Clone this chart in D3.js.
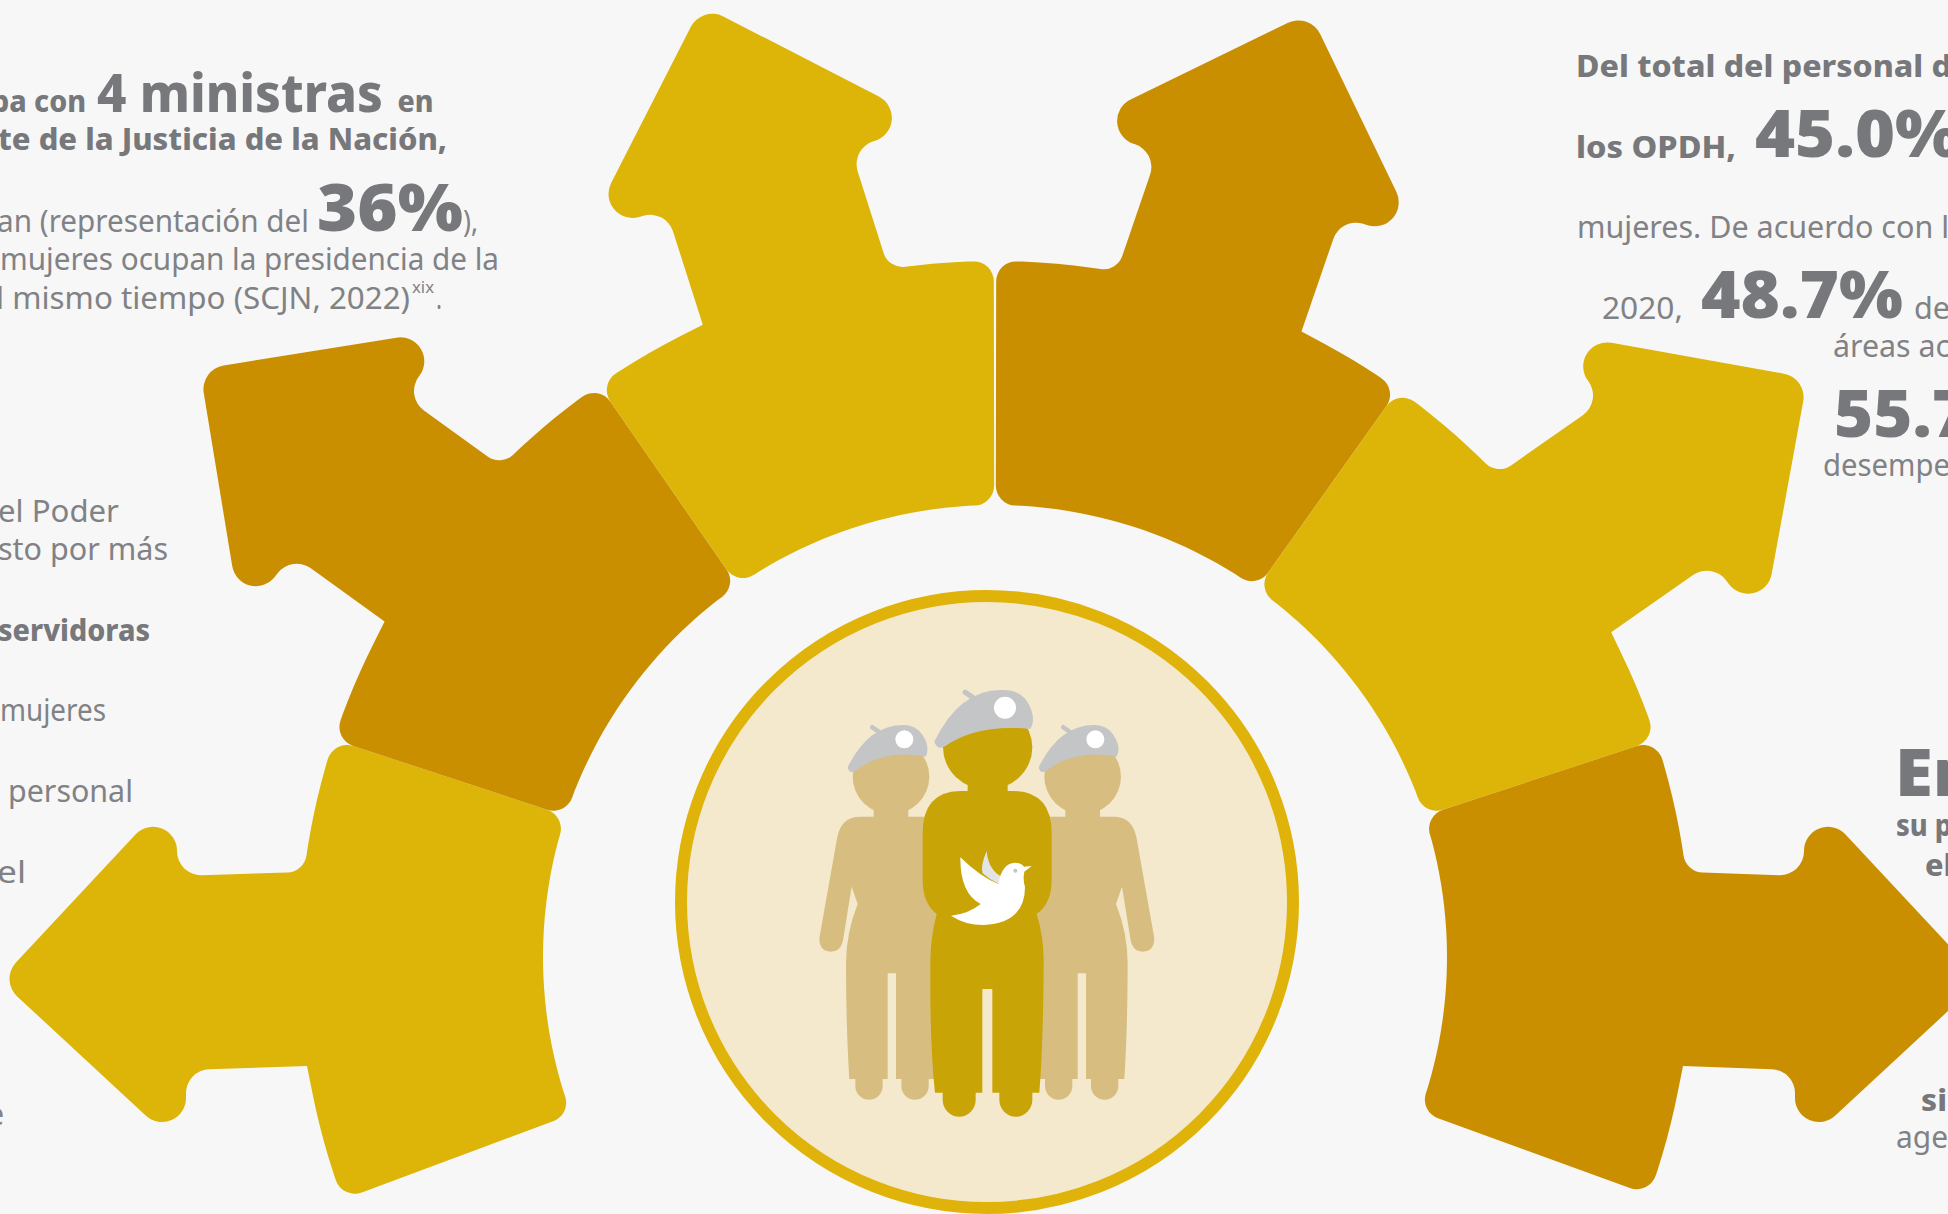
<!DOCTYPE html>
<html>
<head>
<meta charset="utf-8">
<script src="https://cdn.jsdelivr.net/npm/d3@7"></script>
<style>
  html, body { margin: 0; padding: 0; background: #f7f7f7; overflow: hidden; }
  text { font-family: "Noto Sans", "Open Sans", sans-serif; }
</style>
</head>
<body>
<svg id="chart" width="1948" height="1214"></svg>
<script>
// text (cut where the page cuts it)
const labels = [
  'pa con', '4 ministras', 'en', 'te de la Justicia de la Nación,',
  'an (representación del', '36%', '),', 'mujeres ocupan la presidencia de la',
  'l mismo tiempo (SCJN, 2022)', 'xix', '.',
  'el Poder', 'sto por más', 'servidoras', 'mujeres', 'personal', 'el', 'e',
  'Del total del personal d', 'los OPDH,', '45.0%', 'mujeres. De acuerdo con l',
  '2020,', '48.7%', 'de', 'áreas ac', '55.7', 'desempe',
  'En', 'su p', 'el', 'si', 'age'
];
// one row per label: x, baseline, width, size, weight
const labelLayout = [
  [-9, 112, 95, 30, 800], [97, 112, 286, 53, 800], [397.5, 112, 36, 30, 800], [-2, 150, 449, 30, 800],
  [-3, 232, 312, 30, 400], [317, 231, 146, 66, 900], [463, 232, 15, 30, 400], [0, 270, 499, 30, 400],
  [-4, 309, 414, 30, 400], [412, 293, 22, 17, 400], [436, 309, 6, 30, 400],
  [-2, 522, 121, 30, 400], [-2, 560, 170, 30, 400], [-2, 641, 152, 30, 800], [0, 721, 106, 30, 400], [8, 801.5, 125, 30, 400], [-3, 883, 29, 30, 400], [-12, 1125, 16, 30, 400],
  [1576, 77, 376, 30, 800], [1576, 158, 160, 30, 800], [1755, 157, 205, 66, 900], [1577, 238, 372, 30, 400],
  [1602, 319, 81, 30, 400], [1701, 318, 202, 66, 900], [1914, 319, 36, 30, 400], [1833, 357, 117, 30, 400], [1834, 437, 137, 66, 900], [1823, 476, 127, 30, 400],
  [1895, 795.5, 84, 66, 900], [1896, 836, 56, 30, 800], [1925, 876, 28, 30, 800], [1921, 1111, 26, 30, 800], [1896, 1148, 52, 30, 400]
];

// the six arrows, left side then right side
const arrowSide = [-1, -1, -1, 1, 1, 1];
const arrowTailFrom = [71.8, 34.7, 0.1, 0.1, 35.4, 71.8];
const arrowTailTo = [110.4, 71.8, 34.7, 35.4, 71.8, 110];
const arrowRotation = [0, 37.8, 74.2, 72.9, 36.8, 0];
const arrowHeadShift = [0, 7, 0, 0, -2, 9];
const arrowColor = ['#ddb408', '#c98f00', '#ddb408', '#c98f00', '#ddb408', '#c98f00'];

const svg = d3.select('#chart');
svg.append('rect').attr('width', 1948).attr('height', 1214).attr('fill', '#f7f7f7');

// arrows are built around the point the tails curve about
const hub = [995, 957];
const rIn = 452;
const rOut = 696;
const rad = Math.PI / 180;
const neckTop = [-691, -85];
const neckBottom = [-688, 109];
const head = [
  [-818, -81, 24], [-818, -167, 24], [-995.5, 23, 24], [-809, 196, 24], [-809, 113, 24]
];

const polar = (r, deg) => d3.pointRadial(deg * rad, r);
const upAngle = ([x, y]) => Math.atan2(x, -y) / rad;

// points along a tail arc, stopping short of the rounded corners at its ends
const arcPoints = (r, a0, a1, margin) => {
  const m = margin / r / rad * Math.sign(a1 - a0);
  const from = a0 + m;
  const to = a1 - m;
  const n = Math.max(1, Math.ceil(Math.abs(to - from) / 1.5));
  return d3.range(n + 1).map(i => {
    const p = polar(r, from + (to - from) * i / n);
    return [p[0], p[1], 0];
  });
};

const arrowPath = (i) => {
  const t = arrowRotation[i] * rad;
  const turn = ([x, y]) => [x * Math.cos(t) - y * Math.sin(t), x * Math.sin(t) + y * Math.cos(t)];
  const n1 = turn(neckTop);
  const n2 = turn(neckBottom);
  const pts = [
    [...polar(rIn, -arrowTailFrom[i]), 20],
    [...polar(rOut, -arrowTailFrom[i]), 20],
    ...arcPoints(rOut, -arrowTailFrom[i], upAngle(n1), 26),
    [...n1, 20],
    ...head.map(([x, y, r]) => [...turn([x + arrowHeadShift[i], y]), r]),
    [...n2, 0],
    ...arcPoints(rOut, upAngle(n2), -arrowTailTo[i], 26),
    [...polar(rOut, -arrowTailTo[i]), 20],
    [...polar(rIn, -arrowTailTo[i]), 20],
    ...arcPoints(rIn, -arrowTailTo[i], -arrowTailFrom[i], 26)
  ].map(([x, y, r]) => [arrowSide[i] < 0 ? hub[0] + x : hub[0] - x, hub[1] + y, r]);

  const path = d3.path();
  const last = pts[pts.length - 1];
  path.moveTo(last[0], last[1]);
  pts.forEach(([x, y, r], k) => {
    if (r > 0) {
      const next = pts[(k + 1) % pts.length];
      path.arcTo(x, y, next[0], next[1], r);
    } else {
      path.lineTo(x, y);
    }
  });
  path.closePath();
  return path.toString();
};

svg.selectAll('path.arrow')
  .data(d3.range(arrowSide.length))
  .enter()
  .append('path')
  .attr('class', 'arrow')
  .attr('d', arrowPath)
  .attr('fill', i => arrowColor[i]);

svg.append('circle')
  .attr('cx', 987).attr('cy', 902).attr('r', 306)
  .attr('fill', '#f4e9cd').attr('stroke', '#e0b30b').attr('stroke-width', 12);

// people, drawn in a 3x frame and scaled down
const people = svg.append('g').attr('transform', 'translate(780,660) scale(0.33333)');
const sideBody = 'M281,470 L240,470 Q185,470 172,530 L118,835 Q118,875 153,875 Q185,875 190,835 L215,680 L233,732 Q198,820 198,910 Q198,1100 208,1257 L226,1257 L226,1278 A41,41 0 0 0 308,1278 L308,1257 L323,1257 L323,940 L348,940 L348,1257 L364,1257 L364,1278 A41,41 0 0 0 446,1278 L446,1257 L500,1257 L500,470 L385,470 L385,430 L281,430 Z';
const sideBeret = 'M203,322 Q206,340 222,335 Q310,265 437,290 Q446,275 440,250 Q420,195 370,195 Q265,195 203,322 Z';
const mainBody = 'M563,393 L540,393 Q428,395 428,520 L428,660 Q428,730 470,762 Q452,830 451,900 L451,1000 Q452,1180 465,1298 L488,1298 L488,1320 A49.5,50 0 0 0 587,1320 L587,1298 L607,1298 L607,987 L637,987 L637,1298 L658,1298 L658,1320 A49.5,50 0 0 0 757,1320 L757,1298 L778,1298 Q790,1150 791,900 Q791,830 770,762 Q815,730 815,660 L815,520 Q815,395 700,393 L683,393 L683,350 L563,350 Z';
const mainBeret = 'M463,245 Q470,268 490,262 Q590,190 750,207 Q762,190 758,165 Q740,90 670,90 Q540,85 463,245 Z';
const doveBody = 'M541,592 Q600,650 655,672 Q665,610 705,608 Q725,610 732,620 L755,618 L733,635 Q728,660 735,680 Q735,790 610,795 Q555,795 513,767 Q565,762 602,732 Q540,700 541,592 Z';
const doveWing = 'M620,573 Q600,620 608,640 Q630,660 657,672 L665,650 Q625,630 620,573 Z';

[0, 1].forEach(k => {
  const body = people.append('g');
  if (k === 1) body.attr('transform', 'translate(1241,0) scale(-1,1)');
  body.append('ellipse').attr('cx', 333).attr('cy', 350).attr('rx', 115).attr('ry', 113).attr('fill', '#d7be80');
  body.append('path').attr('d', sideBody).attr('fill', '#d7be80');
  const cap = people.append('g').attr('transform', `translate(${k * 573},0)`);
  cap.append('line').attr('x1', 277).attr('y1', 202).attr('x2', 295).attr('y2', 214)
    .attr('stroke', '#c4c5c7').attr('stroke-width', 14).attr('stroke-linecap', 'round');
  cap.append('path').attr('d', sideBeret).attr('fill', '#c4c5c7');
  cap.append('circle').attr('cx', 373).attr('cy', 238).attr('r', 27).attr('fill', '#fff');
});

people.append('ellipse').attr('cx', 623).attr('cy', 262).attr('rx', 134).attr('ry', 127).attr('fill', '#c8a406');
people.append('path').attr('d', mainBody).attr('fill', '#c8a406');
people.append('line').attr('x1', 556).attr('y1', 97).attr('x2', 578).attr('y2', 112)
  .attr('stroke', '#c4c5c7').attr('stroke-width', 16).attr('stroke-linecap', 'round');
people.append('path').attr('d', mainBeret).attr('fill', '#c4c5c7');
people.append('circle').attr('cx', 675).attr('cy', 143).attr('r', 33).attr('fill', '#fff');
people.append('path').attr('d', doveWing).attr('fill', '#e3e4e6');
people.append('path').attr('d', doveBody).attr('fill', '#fff');
people.append('circle').attr('cx', 706).attr('cy', 632).attr('r', 6).attr('fill', '#c4c5c7');

svg.selectAll('text.label')
  .data(labels)
  .enter()
  .append('text')
  .attr('class', 'label')
  .attr('x', (d, i) => labelLayout[i][0])
  .attr('y', (d, i) => labelLayout[i][1])
  .attr('textLength', (d, i) => labelLayout[i][2])
  .attr('lengthAdjust', 'spacingAndGlyphs')
  .attr('font-size', (d, i) => labelLayout[i][3])
  .attr('font-weight', (d, i) => labelLayout[i][4])
  .attr('fill', (d, i) => (labelLayout[i][4] > 400 ? '#77787b' : '#808285'))
  .text(d => d);
</script>
</body>
</html>
